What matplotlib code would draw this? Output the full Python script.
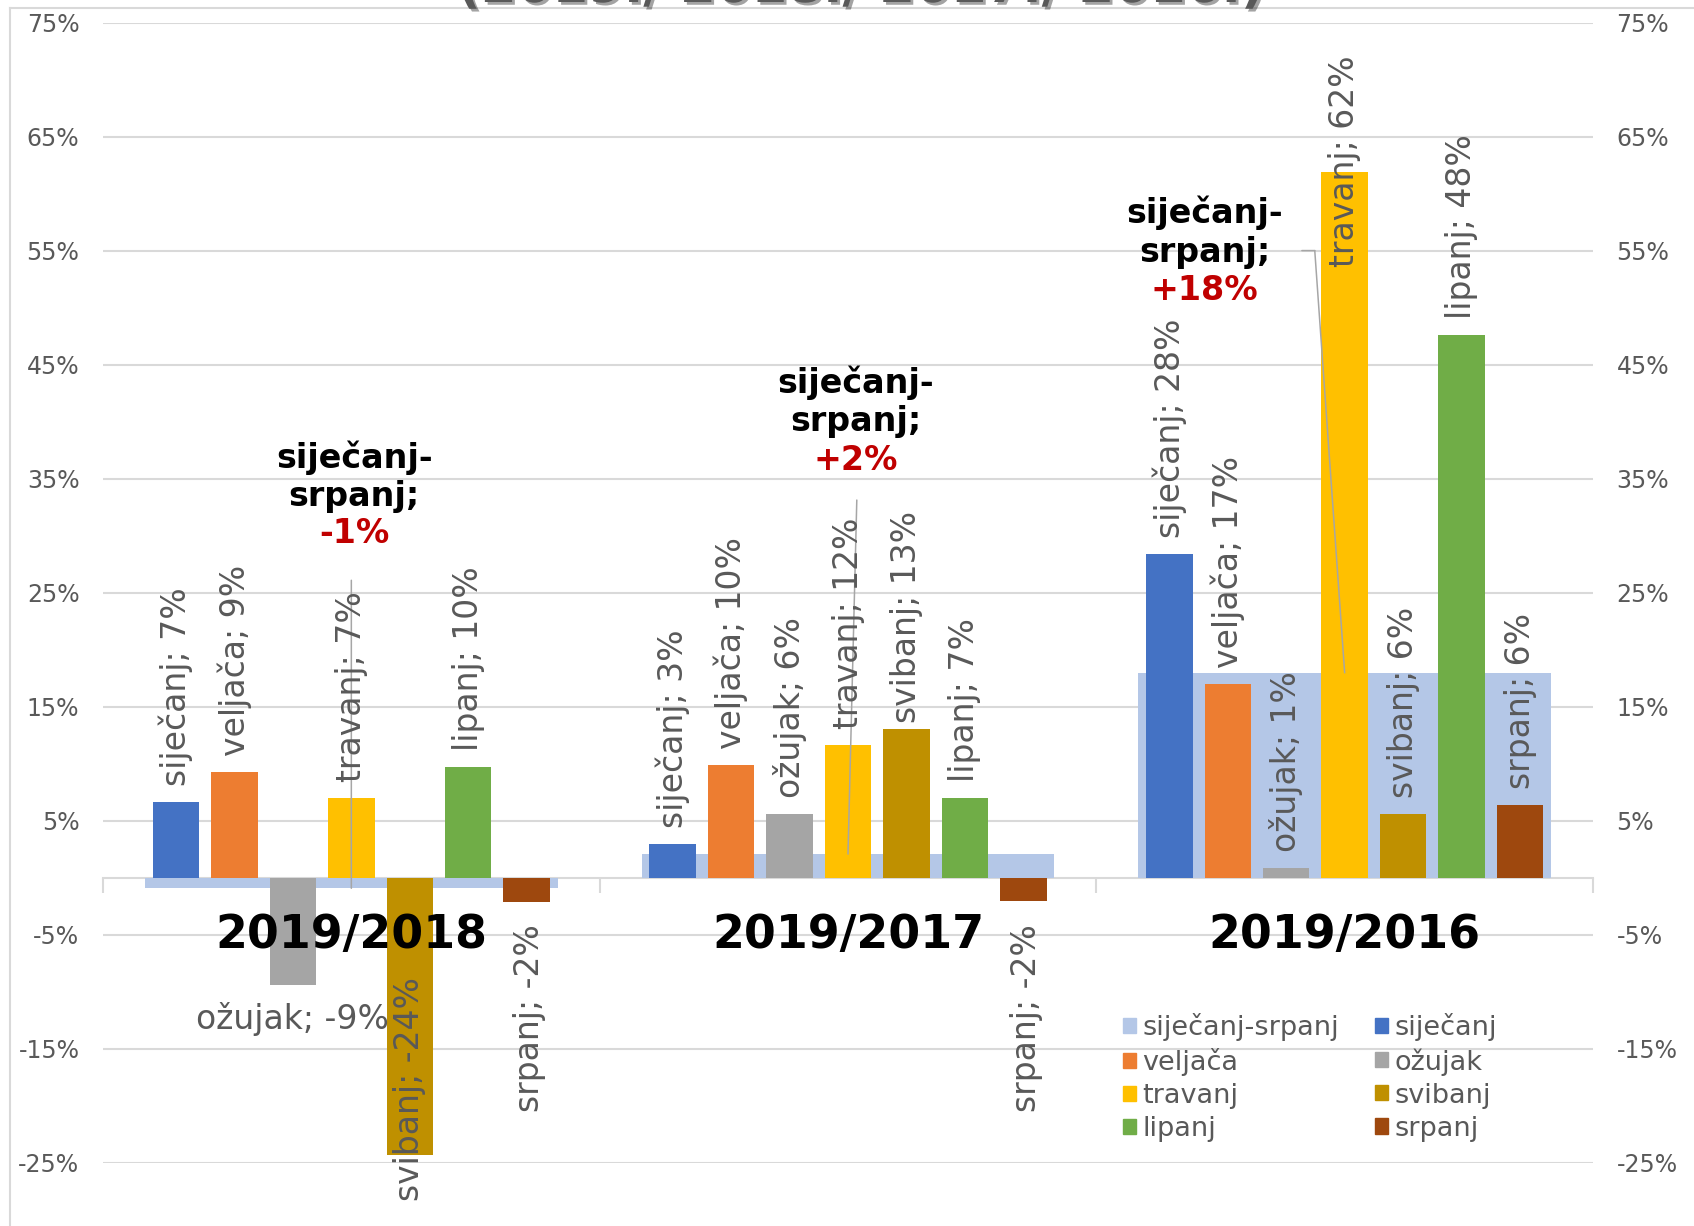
import matplotlib
matplotlib.use("Agg")
import matplotlib.pyplot as plt
from matplotlib.patches import Patch
from matplotlib.lines import Line2D
from matplotlib.transforms import offset_copy
import matplotlib.patheffects as pe

plt.rcParams['font.family'] = ['DejaVu Sans']

# ---------------- data ----------------
categories = ["2019/2018", "2019/2017", "2019/2016"]
months = ["siječanj", "veljača", "ožujak", "travanj", "svibanj", "lipanj", "srpanj"]
total_name = "siječanj-srpanj"
total_vals = [-0.9, 2.1, 18.0]            # %
sijecanj = [6.7, 3.0, 28.4]
veljaca = [9.3, 9.9, 17.0]
ozujak = [-9.4, 5.6, 0.9]
travanj = [7.0, 11.7, 61.9]
svibanj = [-24.3, 13.1, 5.6]
lipanj = [9.7, 7.0, 47.6]
srpanj = [-2.1, -2.0, 6.4]
month_vals = [sijecanj, veljaca, ozujak, travanj, svibanj, lipanj, srpanj]
ytick_vals = [-25, -15, -5, 5, 15, 25, 35, 45, 55, 65, 75]
title_text = "(2019./ 2018./ 2017./ 2016.)"

# ---------------- styles ----------------
total_color = "#B4C7E7"
month_colors = ["#4472C4", "#ED7D31", "#A5A5A5", "#FFC000", "#BF9000", "#70AD47", "#9E480E"]
grid_c = "#D9D9D9"
lab_c = "#595959"

W, H = 1694, 1226
fig = plt.figure(figsize=(W / 100, H / 100), dpi=100)
ax = fig.add_axes([103 / W, 1 - 1163 / H, (1593 - 103) / W, (1163 - 23) / H])
ax.set_xlim(-0.5, 2.5)
ax.set_ylim(-25, 75)

# grid & ticks
ax.set_yticks(ytick_vals)
ax.set_yticklabels([f"{v}%" for v in ytick_vals])
ax.yaxis.grid(True, color=grid_c, lw=1.5, zorder=0)
ax.set_axisbelow(True)
ax.tick_params(axis='y', left=False, right=False, labelleft=True, labelright=True,
               labelsize=17, labelcolor=lab_c, pad=13.5)
for s in ["top", "left", "right"]:
    ax.spines[s].set_visible(False)
ax.spines["bottom"].set_position(("data", 0))
ax.spines["bottom"].set_color(grid_c)
ax.spines["bottom"].set_linewidth(1.5)
ax.spines["bottom"].set_zorder(1)
ax.set_xticks([-0.5, 0.5, 1.5, 2.5])
ax.set_xticklabels([])
ax.tick_params(axis='x', direction='out', length=11, width=1.5, color=grid_c)

x = list(range(len(categories)))
# total (wide) bars
ax.bar(x, total_vals, width=0.831, color=total_color, zorder=2)

slot = 0.1177
bw = 0.0935
for i, (m, vals, c) in enumerate(zip(months, month_vals, month_colors)):
    xs = [g + (i - 3) * slot for g in x]
    ax.bar(xs, vals, width=bw, color=c, zorder=3)

# data label layout: (group, month) -> (dx, dy, va, rotation)
special = {
    (0, 2): (0, -34, 'center', 0),
    (0, 4): (0, -46, 'bottom', 90),
    (0, 6): (3, -22, 'top', 90),
    (1, 4): (0, 6, 'bottom', 90),
    (1, 6): (3, -23, 'top', 90),
    (2, 3): (0, -95, 'bottom', 90),
}
for i, (m, vals) in enumerate(zip(months, month_vals)):
    for g in x:
        v = vals[g]
        xc = g + (i - 3) * slot
        if (g, i) in special:
            dx, dy, va, rot = special[(g, i)]
        elif v >= 0:
            dx, dy, va, rot = 0, 16, 'bottom', 90
        else:
            dx, dy, va, rot = 0, -16, 'top', 90
        ax.annotate(f"{m}; {round(v)}%", xy=(xc, v), xytext=(dx, dy),
                    textcoords='offset pixels', rotation=rot, ha='center', va=va,
                    fontsize=23.8, color=lab_c, zorder=5, annotation_clip=False)

# total labels + leader lines
tot_label_off = [(3, 411.8, 354.3), (7.7, 452.2, 393.8), (-140, 440.5, 382.2)]
leader_pts = [[(0, 308)], [(8.8, 354)], [(-29.9, 422.2), (-42.8, 422.2)]]
lead_c = "#A6A6A6"
for g in x:
    v = total_vals[g]
    dx, dy12, dy3 = tot_label_off[g]
    ax.annotate(f"{total_name.split('-')[0]}-\n{total_name.split('-')[1]};", xy=(g, v),
                xytext=(dx, dy12), textcoords='offset pixels', ha='center', va='center',
                fontsize=24, fontweight='bold', color='black', linespacing=1.2,
                annotation_clip=False, zorder=6)
    ax.annotate(f"{round(v):+d}%", xy=(g, v), xytext=(dx, dy3), textcoords='offset pixels',
                ha='center', va='center', fontsize=24, fontweight='bold', color='#C00000',
                annotation_clip=False, zorder=6)
    pts = leader_pts[g]
    ax.annotate('', xy=(g, v), xytext=pts[0], textcoords='offset pixels',
                arrowprops=dict(arrowstyle='-', color=lead_c, lw=1.1, shrinkA=0, shrinkB=0),
                annotation_clip=False, zorder=4)
    if len(pts) > 1:
        tr = offset_copy(ax.transData, fig=fig, x=pts[0][0], y=pts[0][1], units='dots')
        ax.annotate('', xy=(g, v), xycoords=tr,
                    xytext=(pts[1][0] - pts[0][0], pts[1][1] - pts[0][1]),
                    textcoords='offset pixels',
                    arrowprops=dict(arrowstyle='-', color=lead_c, lw=1.1, shrinkA=0, shrinkB=0),
                    annotation_clip=False, zorder=4)

# category labels
for g, name in zip(x, categories):
    ax.annotate(name, xy=(g, 0), xytext=(0, -57), textcoords='offset pixels',
                ha='center', va='center', fontsize=33, fontweight='bold', color='black',
                annotation_clip=False, zorder=6)

# legend (row-major order like the original -> reorder for column fill)
handles = [Patch(color=total_color, label=total_name)] + \
          [Patch(color=c, label=m) for m, c in zip(months, month_colors)]
order = [0, 2, 4, 6, 1, 3, 5, 7]
leg = ax.legend([handles[k] for k in order], [handles[k].get_label() for k in order],
                ncol=2, loc='upper left', bbox_to_anchor=(1123 / W, 1 - 1013 / H),
                bbox_transform=fig.transFigure, frameon=False, fontsize=19.5,
                handlelength=0.48, handleheight=0.48, handletextpad=0.24,
                columnspacing=1.34, labelspacing=0.26, borderpad=0, borderaxespad=0,
                labelcolor=lab_c)

# figure border and cut-off title
fig.add_artist(Line2D([10 / W, 10 / W], [0, 1 - 8 / H], transform=fig.transFigure,
                      color=grid_c, lw=1.5))
fig.add_artist(Line2D([10 / W, 1], [1 - 8 / H, 1 - 8 / H], transform=fig.transFigure,
                      color=grid_c, lw=1.5))
fig.text(861 / W, 1 - 2 / H, title_text, ha='center', va='baseline', fontsize=37,
         fontweight='bold', color='#595959',
         path_effects=[pe.withSimplePatchShadow(offset=(2, -2), alpha=0.4)])

fig.savefig("out.png", dpi=100)
